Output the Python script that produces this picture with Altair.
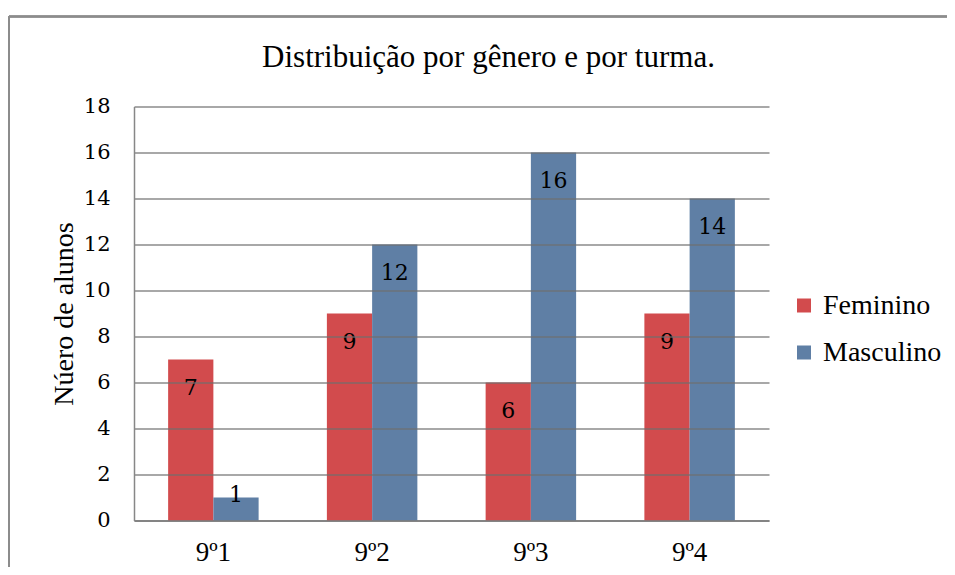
import altair as alt
import pandas as pd

turmas = ["9º1", "9º2", "9º3", "9º4"]
feminino = [7, 9, 6, 9]
masculino = [1, 12, 16, 14]
series = ["Feminino", "Masculino"]
colors = ["#d24b4d", "#5f7fa5"]
y_ticks = [0, 2, 4, 6, 8, 10, 12, 14, 16, 18]

rows = []
for t, f, m in zip(turmas, feminino, masculino):
    rows.append({"turma": t, "genero": "Feminino", "valor": f})
    rows.append({"turma": t, "genero": "Masculino", "valor": m})
df = pd.DataFrame(rows)

FONT = "Liberation Serif"
W, H = 635, 414

x = alt.X("turma:N", sort=turmas,
          scale=alt.Scale(paddingInner=0.43, paddingOuter=0.215),
          axis=alt.Axis(title=None, labelAngle=0, labelFontSize=27, labelFont=FONT,
                        labelColor="black", labelPadding=19, ticks=False,
                        domainColor="#878787", domainWidth=1.5, grid=False))
xo = alt.XOffset("genero:N", sort=series)
color = alt.Color("genero:N", sort=series,
                  scale=alt.Scale(domain=series, range=colors),
                  legend=alt.Legend(title=None, orient="none", legendX=656, legendY=185,
                                    symbolType="square", symbolSize=196,
                                    symbolStrokeWidth=0, labelFontSize=28,
                                    labelFont=FONT, labelFontWeight="normal",
                                    labelColor="black", rowPadding=19, labelOffset=5))

bars = alt.Chart(df).mark_bar(opacity=1).encode(
    x=x, xOffset=xo,
    y=alt.Y("valor:Q", scale=alt.Scale(domain=[0, 18], nice=False),
            axis=alt.Axis(values=y_ticks, title="Núero de alunos", titleFont=FONT,
                          titleFontSize=28, titleFontWeight="normal", titleColor="black",
                          titleX=-70, titleY=H / 2, titleAngle=270, titleAlign="center",
                          titleBaseline="middle",
                          labelFont="DejaVu Serif", labelFontSize=21, labelColor="black",
                          labelFontWeight="normal",
                          labelPadding=24, ticks=False, domainColor="#878787",
                          domainWidth=1.5, gridColor="#6e6e6e", gridOpacity=0.8,
                          gridWidth=1.4, zindex=1)),
    color=color,
)

labels = alt.Chart(df).transform_calculate(
    pos="max(datum.valor - 1.22, 1.13)"
).mark_text(font="DejaVu Serif", fontSize=22, color="black", baseline="middle",
            fontWeight="normal").encode(
    x=x, xOffset=xo,
    y=alt.Y("pos:Q", scale=alt.Scale(domain=[0, 18], nice=False)),
    text=alt.Text("valor:Q", format="d"),
)

frame_left = alt.Chart(df).mark_rule(color="#8c8c8c", strokeWidth=1.5).encode(
    x=alt.value(-125), y=alt.value(-90), y2=alt.value(470))
frame_top = alt.Chart(df).mark_rule(color="#8c8c8c", strokeWidth=1.5).encode(
    x=alt.value(-125), x2=alt.value(830), y=alt.value(-90))

chart = alt.layer(bars, labels, frame_left, frame_top).properties(
    width=W, height=H,
    autosize=alt.AutoSizeParams(type="none"),
    padding={"left": 126, "top": 98.5, "right": 178, "bottom": 46.5},
    title=alt.TitleParams("Distribuição por gênero e por turma.", font=FONT, fontSize=31,
                          fontWeight="normal", color="black", anchor="middle", dx=37,
                          offset=-82, baseline="alphabetic"),
).configure_view(stroke=None)

chart.save("out.html", embed_options={"renderer": "svg", "actions": False})
